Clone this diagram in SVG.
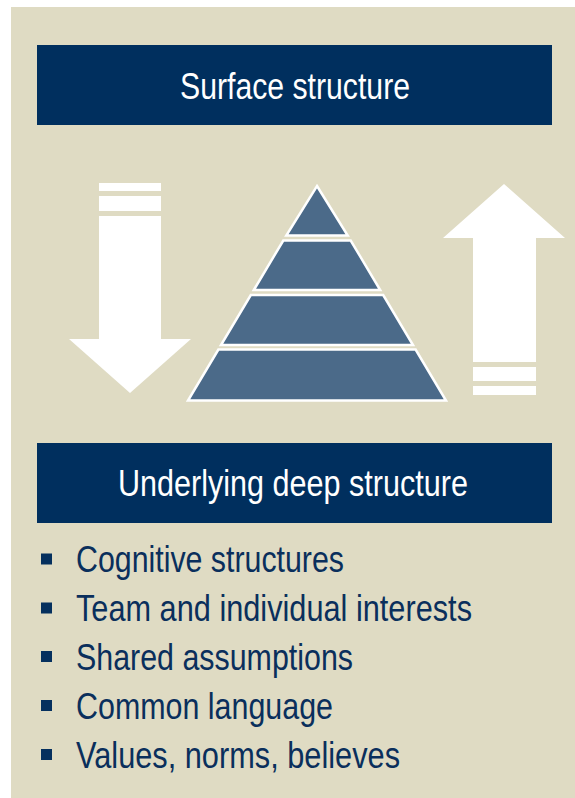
<svg xmlns="http://www.w3.org/2000/svg" width="575" height="798" viewBox="0 0 575 798">
  <style>
    .hdr { fill: #002f5e; }
    .hdrtxt { fill: #ffffff; font-family: "Liberation Sans Narrow", "Arial Narrow", "Liberation Sans", Arial, sans-serif; font-size: 36px; }
    .item { fill: #0a2f5c; font-family: "Liberation Sans Narrow", "Arial Narrow", "Liberation Sans", Arial, sans-serif; font-size: 36px; }
    .bullet { fill: #05305e; }
    .arrow { fill: #ffffff; }
    .layer { fill: #4b6a89; stroke: #ffffff; stroke-width: 2.5; stroke-linejoin: miter; }
  </style>
  <rect x="0" y="0" width="575" height="798" fill="#ffffff"/>
  <rect id="panel" x="11" y="7" width="564" height="791" fill="#dfdbc3"/>

  <g id="surface">
    <rect class="hdr" x="37" y="45" width="515" height="80"/>
    <text class="hdrtxt" x="180" y="99" textLength="230" lengthAdjust="spacingAndGlyphs">Surface structure</text>
  </g>

  <g id="arrow-down">
    <rect class="arrow" x="99" y="183" width="62" height="8"/>
    <rect class="arrow" x="99" y="196" width="62" height="15"/>
    <polygon class="arrow" points="99,216 161,216 161,339 191,339 130,393 69,339 99,339"/>
  </g>

  <g id="pyramid">
    <polygon class="layer" points="317,186 347.7,235.5 286.3,235.5"/>
    <polygon class="layer" points="283.3,240.5 350.7,240.5 380.2,290 253.8,290"/>
    <polygon class="layer" points="250.8,295 383.2,295 413,345 221,345"/>
    <polygon class="layer" points="218.4,349.5 415.6,349.5 446,400.5 188,400.5"/>
  </g>

  <g id="arrow-up">
    <polygon class="arrow" points="504,184 565,238 536,238 536,362 473,362 473,238 443,238"/>
    <rect class="arrow" x="473" y="367" width="63" height="14"/>
    <rect class="arrow" x="473" y="386" width="63" height="9"/>
  </g>

  <g id="deep">
    <rect class="hdr" x="37" y="443" width="515" height="80"/>
    <text class="hdrtxt" x="118" y="496" textLength="350" lengthAdjust="spacingAndGlyphs">Underlying deep structure</text>
  </g>

  <g id="list">
    <rect class="bullet" x="41" y="553.5" width="11" height="11"/>
    <text class="item" x="76" y="572" textLength="268" lengthAdjust="spacingAndGlyphs">Cognitive structures</text>
    <rect class="bullet" x="41" y="602.5" width="11" height="11"/>
    <text class="item" x="76" y="621" textLength="396" lengthAdjust="spacingAndGlyphs">Team and individual interests</text>
    <rect class="bullet" x="41" y="651" width="11" height="11"/>
    <text class="item" x="76" y="669.5" textLength="277" lengthAdjust="spacingAndGlyphs">Shared assumptions</text>
    <rect class="bullet" x="41" y="700" width="11" height="11"/>
    <text class="item" x="76" y="718.5" textLength="257" lengthAdjust="spacingAndGlyphs">Common language</text>
    <rect class="bullet" x="41" y="749" width="11" height="11"/>
    <text class="item" x="76" y="767.5" textLength="324" lengthAdjust="spacingAndGlyphs">Values, norms, believes</text>
  </g>

  <g id="connectors"></g>
</svg>
